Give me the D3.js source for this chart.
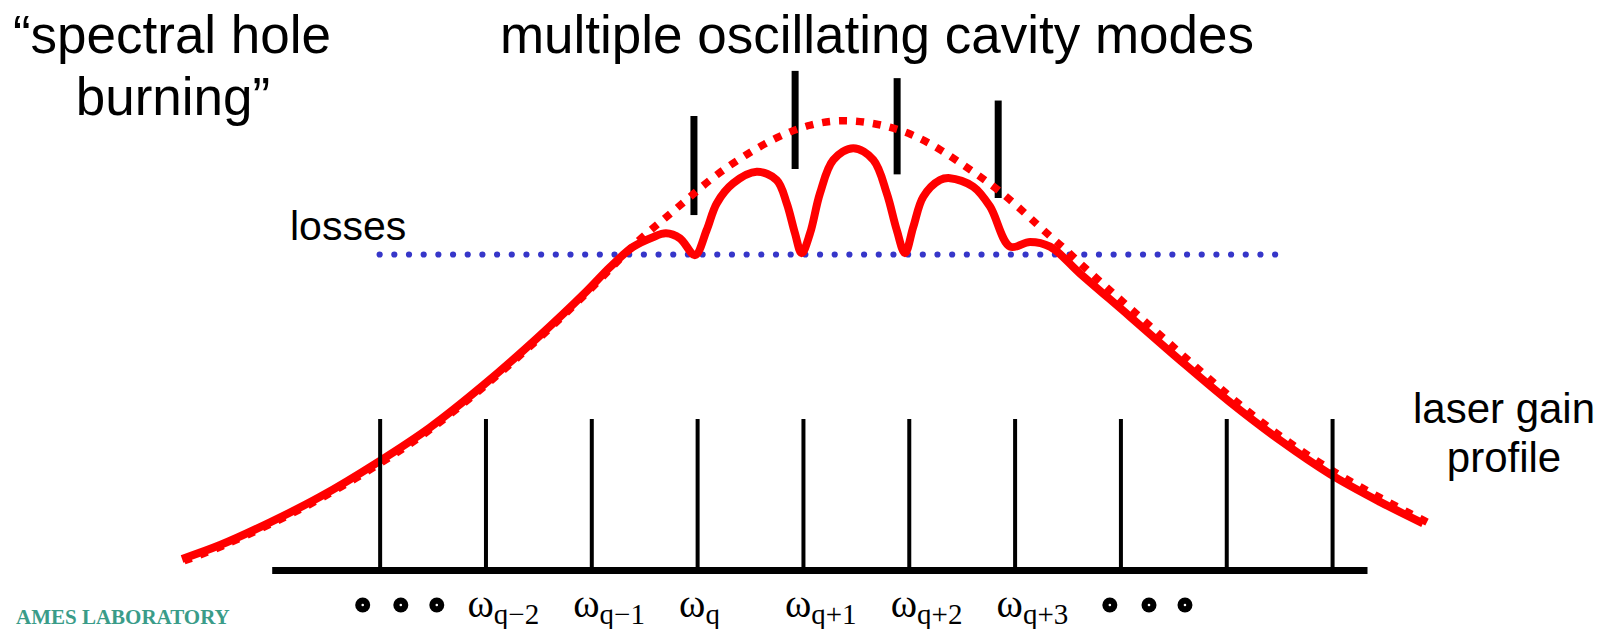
<!DOCTYPE html>
<html><head><meta charset="utf-8">
<script src="https://cdn.jsdelivr.net/npm/d3@7"></script>
<style>html,body{margin:0;padding:0;background:#fff;overflow:hidden}</style>
</head><body>
<svg id="chart" width="1602" height="629"></svg>
<script>
// x: cavity mode index (0 = ω_q), y: gain relative to losses (losses = 1)
const axisExtent = [-4.02, 6.33];
const cavityModes = [-3, -2, -1, 0, 1, 2, 3, 4, 5, 6];
const modeTickHeight = 0.479;
const labelModes = [-2, -1, 0, 1, 2, 3];
const labelSubs = ["q\u22122", "q\u22121", "q", "q+1", "q+2", "q+3"];
const ellipsisLeft = [-3.16, -2.80, -2.46];
const ellipsisRight = [3.90, 4.27, 4.61];
const lossLevel = 1.0;
const lossExtent = [-3.0, 5.47];

// unsaturated laser gain profile (dashed)
const profileFreq = [-4.847, -4.508, -4.036, -3.563, -2.995, -2.524, -2.023, -1.513, -1.040, -0.823,
  -0.556, -0.303, -0.067, 0.185, 0.453, 0.752, 1.067, 1.381, 1.712, 2.028, 2.311, 2.563, 2.831,
  3.098, 3.319, 3.457, 3.684, 4.091, 4.563, 5.035, 5.508, 5.980, 6.453, 6.897];
const profileGain = [0.029, 0.071, 0.144, 0.223, 0.336, 0.441, 0.577, 0.726, 0.878, 0.954,
  1.046, 1.115, 1.183, 1.255, 1.315, 1.373, 1.414, 1.429, 1.415, 1.384, 1.331, 1.273, 1.210,
  1.132, 1.062, 1.024, 0.951, 0.830, 0.688, 0.548, 0.422, 0.317, 0.228, 0.152];

// saturated gain with burned holes (solid)
const burnedFreq = [-4.867, -4.508, -4.036, -3.563, -3.012, -2.524, -2.020, -1.516, -1.043, -0.823,
  -0.606, -0.417, -0.294, -0.162, -0.020, 0.091, 0.185, 0.342, 0.563, 0.752, 0.847, 0.925, 0.988,
  1.067, 1.161, 1.287, 1.476, 1.665, 1.792, 1.886, 1.964, 2.043, 2.137, 2.295, 2.390, 2.610, 2.768,
  2.957, 3.146, 3.335, 3.618, 4.091, 4.563, 5.035, 5.508, 5.980, 6.453, 6.859];
const burnedGain = [0.035, 0.079, 0.151, 0.232, 0.343, 0.452, 0.586, 0.734, 0.884, 0.960,
  1.024, 1.055, 1.067, 1.051, 0.998, 1.078, 1.162, 1.226, 1.262, 1.236, 1.162, 1.067, 1.004,
  1.067, 1.194, 1.300, 1.337, 1.300, 1.194, 1.078, 1.004, 1.088, 1.183, 1.236, 1.242, 1.215, 1.152,
  1.025, 1.040, 1.025, 0.940, 0.803, 0.665, 0.532, 0.411, 0.304, 0.216, 0.148];

// oscillating cavity modes (vertical bars)
const oscFreq = [-0.03, 0.926, 1.89, 2.845];
const oscTop = [1.439, 1.582, 1.559, 1.488];
const oscBottom = [1.125, 1.271, 1.254, 1.179];

const svg = d3.select("#chart");
const x = d3.scaleLinear().domain(axisExtent).range([271.7, 1367]);
const y = d3.scaleLinear().domain([0, 1]).range([570, 254.5]);

const sans = "'Liberation Sans', Arial, sans-serif";
const serif = "'Liberation Serif', 'Times New Roman', serif";

// losses line
svg.append("line")
  .attr("x1", x(lossExtent[0])).attr("x2", x(lossExtent[1]))
  .attr("y1", y(lossLevel)).attr("y2", y(lossLevel))
  .attr("stroke", "#3636c9").attr("stroke-width", 6.2)
  .attr("stroke-linecap", "round").attr("stroke-dasharray", "0 14.68");

// oscillating mode bars
svg.selectAll("line.osc").data(oscFreq).join("line").attr("class", "osc")
  .attr("x1", d => x(d)).attr("x2", d => x(d))
  .attr("y1", (d, i) => y(oscTop[i])).attr("y2", (d, i) => y(oscBottom[i]))
  .attr("stroke", "#000").attr("stroke-width", 7);

const smooth = d3.line().x(d => x(d[0])).y(d => y(d[1])).curve(d3.curveBasis);
const line = d3.line().x(d => x(d[0])).y(d => y(d[1])).curve(d3.curveCatmullRom.alpha(0.5));

svg.append("path").datum(profileFreq.map((f, i) => [f, profileGain[i]]))
  .attr("d", smooth).attr("fill", "none").attr("stroke", "#ff0000")
  .attr("stroke-width", 7.5).attr("stroke-dasharray", "8 9");

svg.append("path").datum(burnedFreq.map((f, i) => [f, burnedGain[i]]))
  .attr("d", line).attr("fill", "none").attr("stroke", "#ff0000")
  .attr("stroke-width", 8).attr("stroke-linejoin", "round");

// frequency axis with cavity modes
const ax = svg.append("g").attr("transform", `translate(0,${y(0)})`)
  .call(d3.axisBottom(x).tickValues(cavityModes)
    .tickSizeInner(-(y(0) - y(modeTickHeight))).tickSizeOuter(0).tickFormat(""));
ax.select(".domain").attr("stroke", "#000").attr("stroke-width", 7);
ax.selectAll(".tick line").attr("stroke", "#000").attr("stroke-width", 4);

// mode labels
const lab = svg.selectAll("text.mode").data(labelModes).join("text").attr("class", "mode")
  .attr("x", d => x(d) - 18).attr("y", 617)
  .attr("font-family", serif).attr("fill", "#000");
lab.append("tspan").attr("font-size", 40).text("\u03c9");
lab.append("tspan").attr("font-size", 29).attr("dy", 7).text((d, i) => labelSubs[i]);

// ellipsis dots
const dots = ellipsisLeft.concat(ellipsisRight);
svg.selectAll("circle.ell").data(dots).join("circle").attr("class", "ell")
  .attr("cx", d => x(d)).attr("cy", 605).attr("r", 7.5).attr("fill", "#000");
svg.selectAll("circle.ellc").data(dots).join("circle").attr("class", "ellc")
  .attr("cx", d => x(d)).attr("cy", 605).attr("r", 1.3).attr("fill", "#fff");

// annotations
function txt(t, xx, yy, size, anchor, fam) {
  svg.append("text").attr("x", xx).attr("y", yy).attr("font-size", size)
    .attr("font-family", fam || sans).attr("text-anchor", anchor || "start").attr("fill", "#000").text(t);
}
txt("multiple oscillating cavity modes", 877, 53, 53, "middle");
txt("\u201cspectral hole", 172, 53, 53, "middle");
txt("burning\u201d", 173, 115, 53, "middle");
txt("losses", 290, 240, 41);
txt("laser gain", 1504, 423, 42, "middle");
txt("profile", 1504, 472, 42, "middle");

svg.append("text").attr("x", 16).attr("y", 624).attr("font-size", 21).attr("font-weight", "bold")
  .attr("font-family", serif).attr("fill", "#3a9c89").text("AMES LABORATORY");
</script>
</body></html>
